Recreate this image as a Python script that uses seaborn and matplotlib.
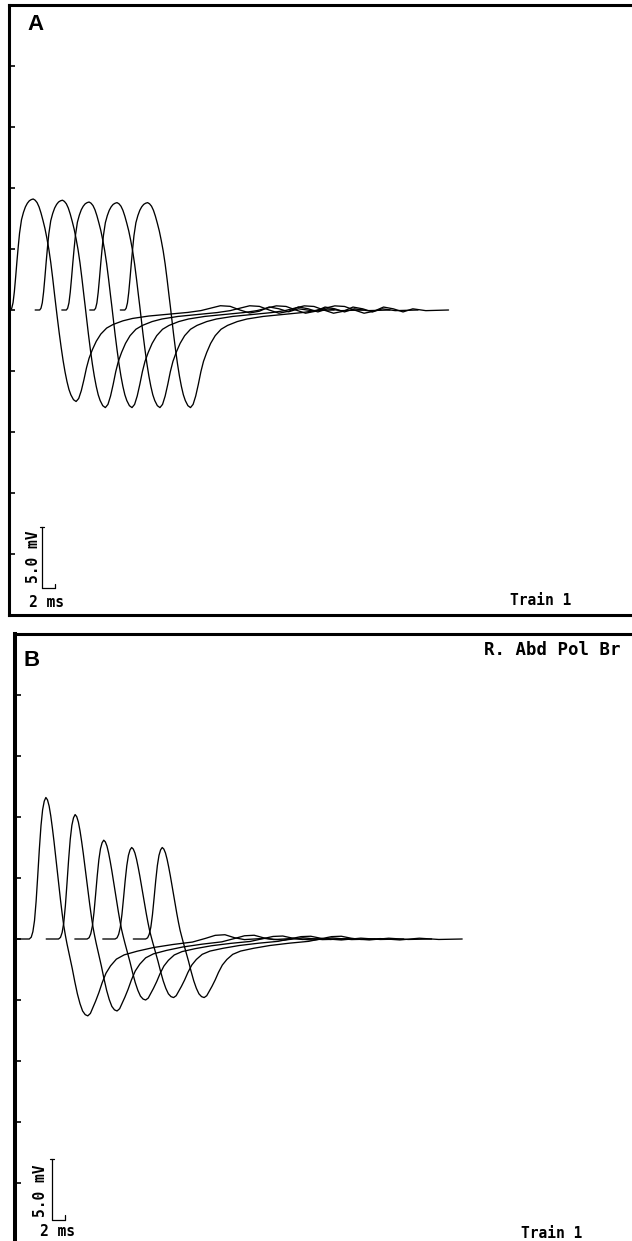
import numpy as np
import pandas as pd
import matplotlib
matplotlib.use("Agg")
import matplotlib.pyplot as plt
import seaborn as sns

# template waveform, panel A (time from trace start in ms, value in mV)
tmpl_a_t = [0.0, 0.7, 0.9, 1.1, 1.3, 1.5, 1.7, 1.9, 2.1, 2.4, 2.7, 3.0, 3.3, 3.6, 3.9,
            4.2, 4.5, 4.8, 5.1, 5.4, 5.7, 6.0, 6.3, 6.6, 6.9, 7.2, 7.5, 7.7, 7.9, 8.2,
            8.5, 8.8, 9.1, 9.4, 9.7, 10.0, 10.4, 10.8, 11.2, 11.6, 12.0, 12.4, 12.8,
            13.3, 13.9, 14.6, 15.5, 16.5, 18.0, 19.5, 22.0, 25.0, 28.0, 30.0, 31.5,
            33.0, 34.5, 36.0, 37.5, 39.0, 40.5, 42.0, 43.5, 45.0, 47.0, 50.5]
tmpl_a_v = [0.0, 0.0, 0.15, 0.6, 1.5, 2.7, 4.0, 5.2, 6.3, 7.4, 8.0, 8.45, 8.75, 8.95, 9.05,
            9.1, 9.0, 8.8, 8.45, 7.95, 7.35, 6.7, 5.9, 5.0, 3.9, 2.6, 1.2, 0.3, -0.6, -1.9,
            -3.1, -4.2, -5.15, -5.95, -6.6, -7.05, -7.45, -7.6, -7.35, -6.7, -5.8, -4.8, -4.0,
            -3.3, -2.6, -2.0, -1.5, -1.2, -0.9, -0.7, -0.5, -0.35, -0.2, -0.05, 0.15,
            0.35, 0.3, 0.0, -0.25, -0.1, 0.25, 0.1, -0.15, 0.1, -0.05, 0.0]

# template waveform, panel B
tmpl_b_t = [0.0, 1.9, 2.2, 2.45, 2.7, 2.95, 3.2, 3.45, 3.7, 3.95, 4.2, 4.45, 4.7, 4.95,
            5.2, 5.45, 5.7, 5.95, 6.2, 6.45, 6.7, 6.95, 7.2, 7.45, 7.7, 8.1, 8.5, 8.9,
            9.3, 9.7, 10.1, 10.5, 10.9, 11.3, 11.7, 12.1, 12.6, 13.1, 13.7, 14.4, 15.3,
            16.5, 18.5, 21.0, 24.0, 27.0, 29.0, 30.5, 32.0, 33.5, 35.0, 38.0, 41.0,
            44.0, 47.0, 50.6]
tmpl_b_v = [0.0, 0.0, 0.15, 0.6, 1.5, 3.1, 5.2, 7.4, 9.3, 10.6, 11.3, 11.6, 11.4, 10.9,
            10.1, 9.1, 8.0, 6.8, 5.6, 4.4, 3.2, 2.1, 1.1, 0.3, -0.4, -1.4, -2.4, -3.5,
            -4.5, -5.3, -5.9, -6.2, -6.3, -6.1, -5.6, -5.1, -4.4, -3.6, -2.8, -2.2, -1.65,
            -1.3, -1.0, -0.7, -0.45, -0.25, 0.05, 0.3, 0.35, 0.1, -0.05, 0.05, -0.1,
            0.1, -0.05, 0.0]

# trace onsets (ms from left border), peak and trough amplitudes (mV)
onset_a = [-0.4, 4.1, 8.2, 12.5, 17.2]
peak_a = [9.1, 9.0, 8.85, 8.8, 8.8]
trough_a = [-7.5, -8.0, -8.0, -8.0, -8.0]

onset_b = [0.3, 4.8, 9.2, 13.5, 18.2]
peak_b = [11.6, 10.2, 8.1, 7.5, 7.5]
trough_b = [-6.3, -5.9, -5.0, -4.8, -4.8]

y_ticks = [-20, -15, -10, -5, 0, 5, 10, 15, 20]


def build(tt, tv, onsets, peaks, troughs):
    tt = np.array(tt)
    tv = np.array(tv)
    pk = tv.max()
    tr = tv.min()
    rows = []
    for i, (o, p, q) in enumerate(zip(onsets, peaks, troughs)):
        v = np.where(tv > 0, tv * p / pk, tv * q / tr)
        rows.append(pd.DataFrame({"t": tt + o, "v": v, "trace": i}))
    return pd.concat(rows, ignore_index=True)


df_a = build(tmpl_a_t, tmpl_a_v, onset_a, peak_a, trough_a)
df_b = build(tmpl_b_t, tmpl_b_v, onset_b, peak_b, trough_b)

sns.set_style("white")
plt.rcParams["font.family"] = ["DejaVu Sans"]
plt.rcParams["text.color"] = "black"

W, H = 632, 1241
fig = plt.figure(figsize=(W / 100, H / 100), dpi=100)
ax_a = fig.add_axes([8.5 / W, 1 - 615 / H, (W - 8.5) / W, 610 / H])
ax_b = fig.add_axes([15 / W, 1 - 1244 / H, (W - 15) / W, 610 / H])

mono = dict(family="DejaVu Sans Mono", fontweight="bold", fontsize=10.5, color="black")

for ax, df, xmax, lw_left in [(ax_a, df_a, (W - 8.5) / 6.5, 2.2),
                              (ax_b, df_b, (W - 15) / 6.5, 2.9)]:
    sns.lineplot(data=df, x="t", y="v", hue="trace", palette=["black"] * 5,
                 estimator=None, sort=False, lw=0.95, legend=False, ax=ax)
    ax.set_xlim(0, xmax)
    ax.set_ylim(-25, 25)
    ax.set_xlabel("")
    ax.set_ylabel("")
    ax.set_xticks([])
    ax.set_yticks(y_ticks)
    ax.set_yticklabels([])
    ax.tick_params(axis="y", direction="in", length=4, width=1.2, color="black", left=True)
    ax.spines["right"].set_visible(False)
    ax.spines["left"].set_linewidth(lw_left)
    ax.spines["top"].set_linewidth(2.2)
    ax.spines["bottom"].set_linewidth(2.2)
    for s in ax.spines.values():
        s.set_color("black")
    ax.set_facecolor("white")

ax_b.spines["bottom"].set_visible(False)

# scale bars
for ax, x0, y0, tx, ty, sx in [(ax_a, 5.15, -22.8, 3.77, -20.2, 5.9),
                               (ax_b, 5.7, -23.0, 3.85, -20.6, 6.5)]:
    ax.plot([x0, x0], [y0, y0 + 5], color="black", lw=0.9)
    ax.plot([x0 - 0.3, x0 + 0.3], [y0 + 5, y0 + 5], color="black", lw=0.9)
    ax.plot([x0, x0 + 2], [y0, y0], color="black", lw=0.9)
    ax.plot([x0 + 2, x0 + 2], [y0, y0 + 0.35], color="black", lw=0.9)
    ax.text(tx, ty, "5.0 mV", rotation=90, ha="center", va="center", **mono)
    ax.text(sx, -23.95, "2 ms", ha="center", va="center", **mono)

ax_a.text(81.9, -23.8, "Train 1", ha="center", va="center", **mono)
ax_b.text(82.6, -24.1, "Train 1", ha="center", va="center", **mono)
ax_b.text(93.1, 23.7, "R. Abd Pol Br", ha="right", va="center", color="black",
          family="DejaVu Sans Mono", fontweight="bold", fontsize=12.5)

ax_a.text(4.2, 23.4, "A", ha="center", va="center", fontsize=16, fontweight="bold",
          family="Liberation Sans", color="black")
ax_b.text(2.5, 22.8, "B", ha="center", va="center", fontsize=16, fontweight="bold",
          family="Liberation Sans", color="black")

fig.savefig("out.png", dpi=100)
